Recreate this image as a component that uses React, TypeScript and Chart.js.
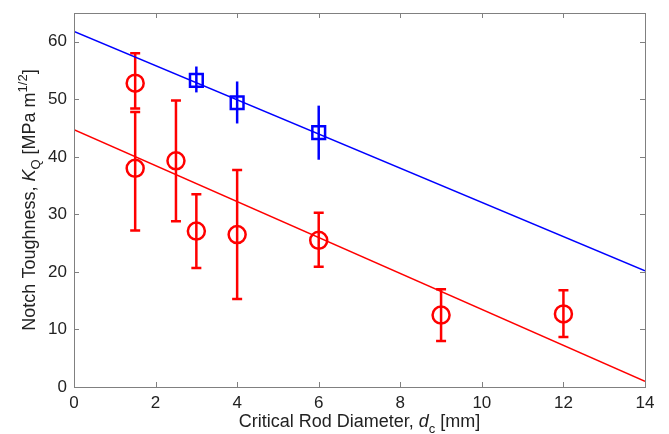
import React, { useEffect, useRef } from "react";
import { Chart, registerables } from "chart.js";

Chart.register(...registerables);

const redX = [1.5, 1.5, 2.5, 3, 4, 6, 9, 12];
const redY = [52.8, 38.0, 39.3, 27.1, 26.5, 25.5, 12.5, 12.7];
const redLo = [48.4, 27.2, 28.8, 20.7, 15.3, 20.9, 8.0, 8.7];
const redHi = [58.0, 47.8, 49.8, 33.5, 37.7, 30.3, 17.0, 16.8];

const blueX = [3, 4, 6];
const blueY = [53.3, 49.4, 44.2];
const blueLo = [51.2, 45.8, 39.5];
const blueHi = [55.7, 53.1, 48.9];

const fitX = [0, 14];
const blueFitY = [61.8, 20.2];
const redFitY = [44.7, 1.0];

const xTicks = [0, 2, 4, 6, 8, 10, 12, 14];
const yTicks = [0, 10, 20, 30, 40, 50, 60];

const RED = "rgb(255,0,0)";
const BLUE = "rgb(0,0,255)";
const GRAY = "rgb(128,128,128)";
const FONT = "'Liberation Sans', Arial, sans-serif";

const pts = (xs: number[], ys: number[]) => xs.map((x, i) => ({ x, y: ys[i] }));

const framePlugin = {
  id: "frameAndBars",
  beforeDatasetsDraw(chart: any) {
    const { ctx, scales } = chart;
    const xs = scales.x, ys = scales.y;
    ctx.save();
    const bars = (X: number[], lo: number[], hi: number[], color: string, cap: number) => {
      ctx.strokeStyle = color;
      ctx.lineWidth = 2.5;
      X.forEach((x, i) => {
        const px = xs.getPixelForValue(x);
        const p1 = ys.getPixelForValue(lo[i]);
        const p2 = ys.getPixelForValue(hi[i]);
        ctx.beginPath();
        ctx.moveTo(px, p1);
        ctx.lineTo(px, p2);
        if (cap > 0) {
          ctx.moveTo(px - cap, p1);
          ctx.lineTo(px + cap, p1);
          ctx.moveTo(px - cap, p2);
          ctx.lineTo(px + cap, p2);
        }
        ctx.stroke();
      });
    };
    bars(redX, redLo, redHi, RED, 5);
    bars(blueX, blueLo, blueHi, BLUE, 0);
    ctx.restore();
  },
  afterDraw(chart: any) {
    const { ctx, chartArea: a, scales } = chart;
    const xs = scales.x, ys = scales.y;
    ctx.save();
    ctx.strokeStyle = GRAY;
    ctx.lineWidth = 1;
    ctx.strokeRect(Math.round(a.left) + 0.5, Math.round(a.top) + 0.5, Math.round(a.right - a.left), Math.round(a.bottom - a.top));
    ctx.beginPath();
    const tl = 5;
    xTicks.forEach((t) => {
      const px = Math.round(xs.getPixelForValue(t)) + 0.5;
      ctx.moveTo(px, a.bottom);
      ctx.lineTo(px, a.bottom - tl);
      ctx.moveTo(px, a.top);
      ctx.lineTo(px, a.top + tl);
    });
    yTicks.forEach((t) => {
      const py = Math.round(ys.getPixelForValue(t)) + 0.5;
      ctx.moveTo(a.left, py);
      ctx.lineTo(a.left + tl, py);
      ctx.moveTo(a.right, py);
      ctx.lineTo(a.right - tl, py);
    });
    ctx.stroke();

    ctx.fillStyle = "#222";
    ctx.textBaseline = "alphabetic";
    const size = 18;
    const sub = 13;
    const drawParts = (ps: [string, string, number][], cx: number, baseY: number) => {
      let total = 0;
      ps.forEach(([t, f]) => { ctx.font = f; total += ctx.measureText(t).width; });
      let x = cx - total / 2;
      ps.forEach(([t, f, dy]) => {
        ctx.font = f;
        ctx.textAlign = "left";
        ctx.fillText(t, x, baseY + dy);
        x += ctx.measureText(t).width;
      });
    };
    const parts: [string, string, number][] = [
      ["Critical Rod Diameter, ", `${size}px ${FONT}`, 0],
      ["d", `italic ${size}px ${FONT}`, 0],
      ["c", `${sub}px ${FONT}`, 6],
      [" [mm]", `${size}px ${FONT}`, 0],
    ];
    drawParts(parts, (a.left + a.right) / 2, 427);

    ctx.save();
    ctx.translate(35, (a.top + a.bottom) / 2);
    ctx.rotate(-Math.PI / 2);
    const yparts: [string, string, number][] = [
      ["Notch Toughness, ", `${size}px ${FONT}`, 0],
      ["K", `italic ${size}px ${FONT}`, 0],
      ["Q", `${sub}px ${FONT}`, 5],
      [" [MPa m", `${size}px ${FONT}`, 0],
      ["1/2", `${sub}px ${FONT}`, -8],
      ["]", `${size}px ${FONT}`, 0],
    ];
    drawParts(yparts, 0, 0);
    ctx.restore();
    ctx.restore();
  },
};

export default function App() {
  const ref = useRef<HTMLCanvasElement>(null);
  useEffect(() => {
    document.body.style.margin = "0";
    const chart = new Chart(ref.current!, {
      type: "scatter",
      data: {
        datasets: [
          { data: pts(fitX, blueFitY), showLine: true, borderColor: BLUE, borderWidth: 1.5, pointRadius: 0 },
          { data: pts(fitX, redFitY), showLine: true, borderColor: RED, borderWidth: 1.5, pointRadius: 0 },
          {
            data: pts(redX, redY),
            pointStyle: "circle",
            pointRadius: 8.5,
            borderColor: RED,
            backgroundColor: "rgba(0,0,0,0)",
            borderWidth: 2.5,
          },
          {
            data: pts(blueX, blueY),
            pointStyle: "rect",
            pointRadius: 9,
            borderColor: BLUE,
            backgroundColor: "rgba(0,0,0,0)",
            borderWidth: 2.5,
          },
        ],
      },
      options: {
        animation: false,
        responsive: false,
        layout: { padding: { left: 0, right: 24, top: 13, bottom: 0 } },
        plugins: { legend: { display: false }, tooltip: { enabled: false } },
        scales: {
          x: {
            type: "linear",
            min: 0,
            max: 14,
            afterBuildTicks: (s: any) => { s.ticks = xTicks.map((v) => ({ value: v })); },
            afterFit: (s: any) => { s.height = 47; s.paddingLeft = 0; s.paddingRight = 0; },
            grid: { display: false, drawTicks: false },
            border: { display: false },
            ticks: { color: "#222", font: { family: FONT, size: 17 }, padding: 6, maxRotation: 0 },
          },
          y: {
            type: "linear",
            min: 0,
            max: 65,
            afterBuildTicks: (s: any) => { s.ticks = yTicks.map((v) => ({ value: v })); },
            afterFit: (s: any) => { s.width = 74; s.paddingTop = 0; s.paddingBottom = 0; },
            grid: { display: false, drawTicks: false },
            border: { display: false },
            ticks: { color: "#222", font: { family: FONT, size: 17 }, padding: 7 },
          },
        },
      },
      plugins: [framePlugin],
    });
    return () => chart.destroy();
  }, []);
  return <canvas ref={ref} width={669} height={434} style={{ display: "block" }} />;
}
